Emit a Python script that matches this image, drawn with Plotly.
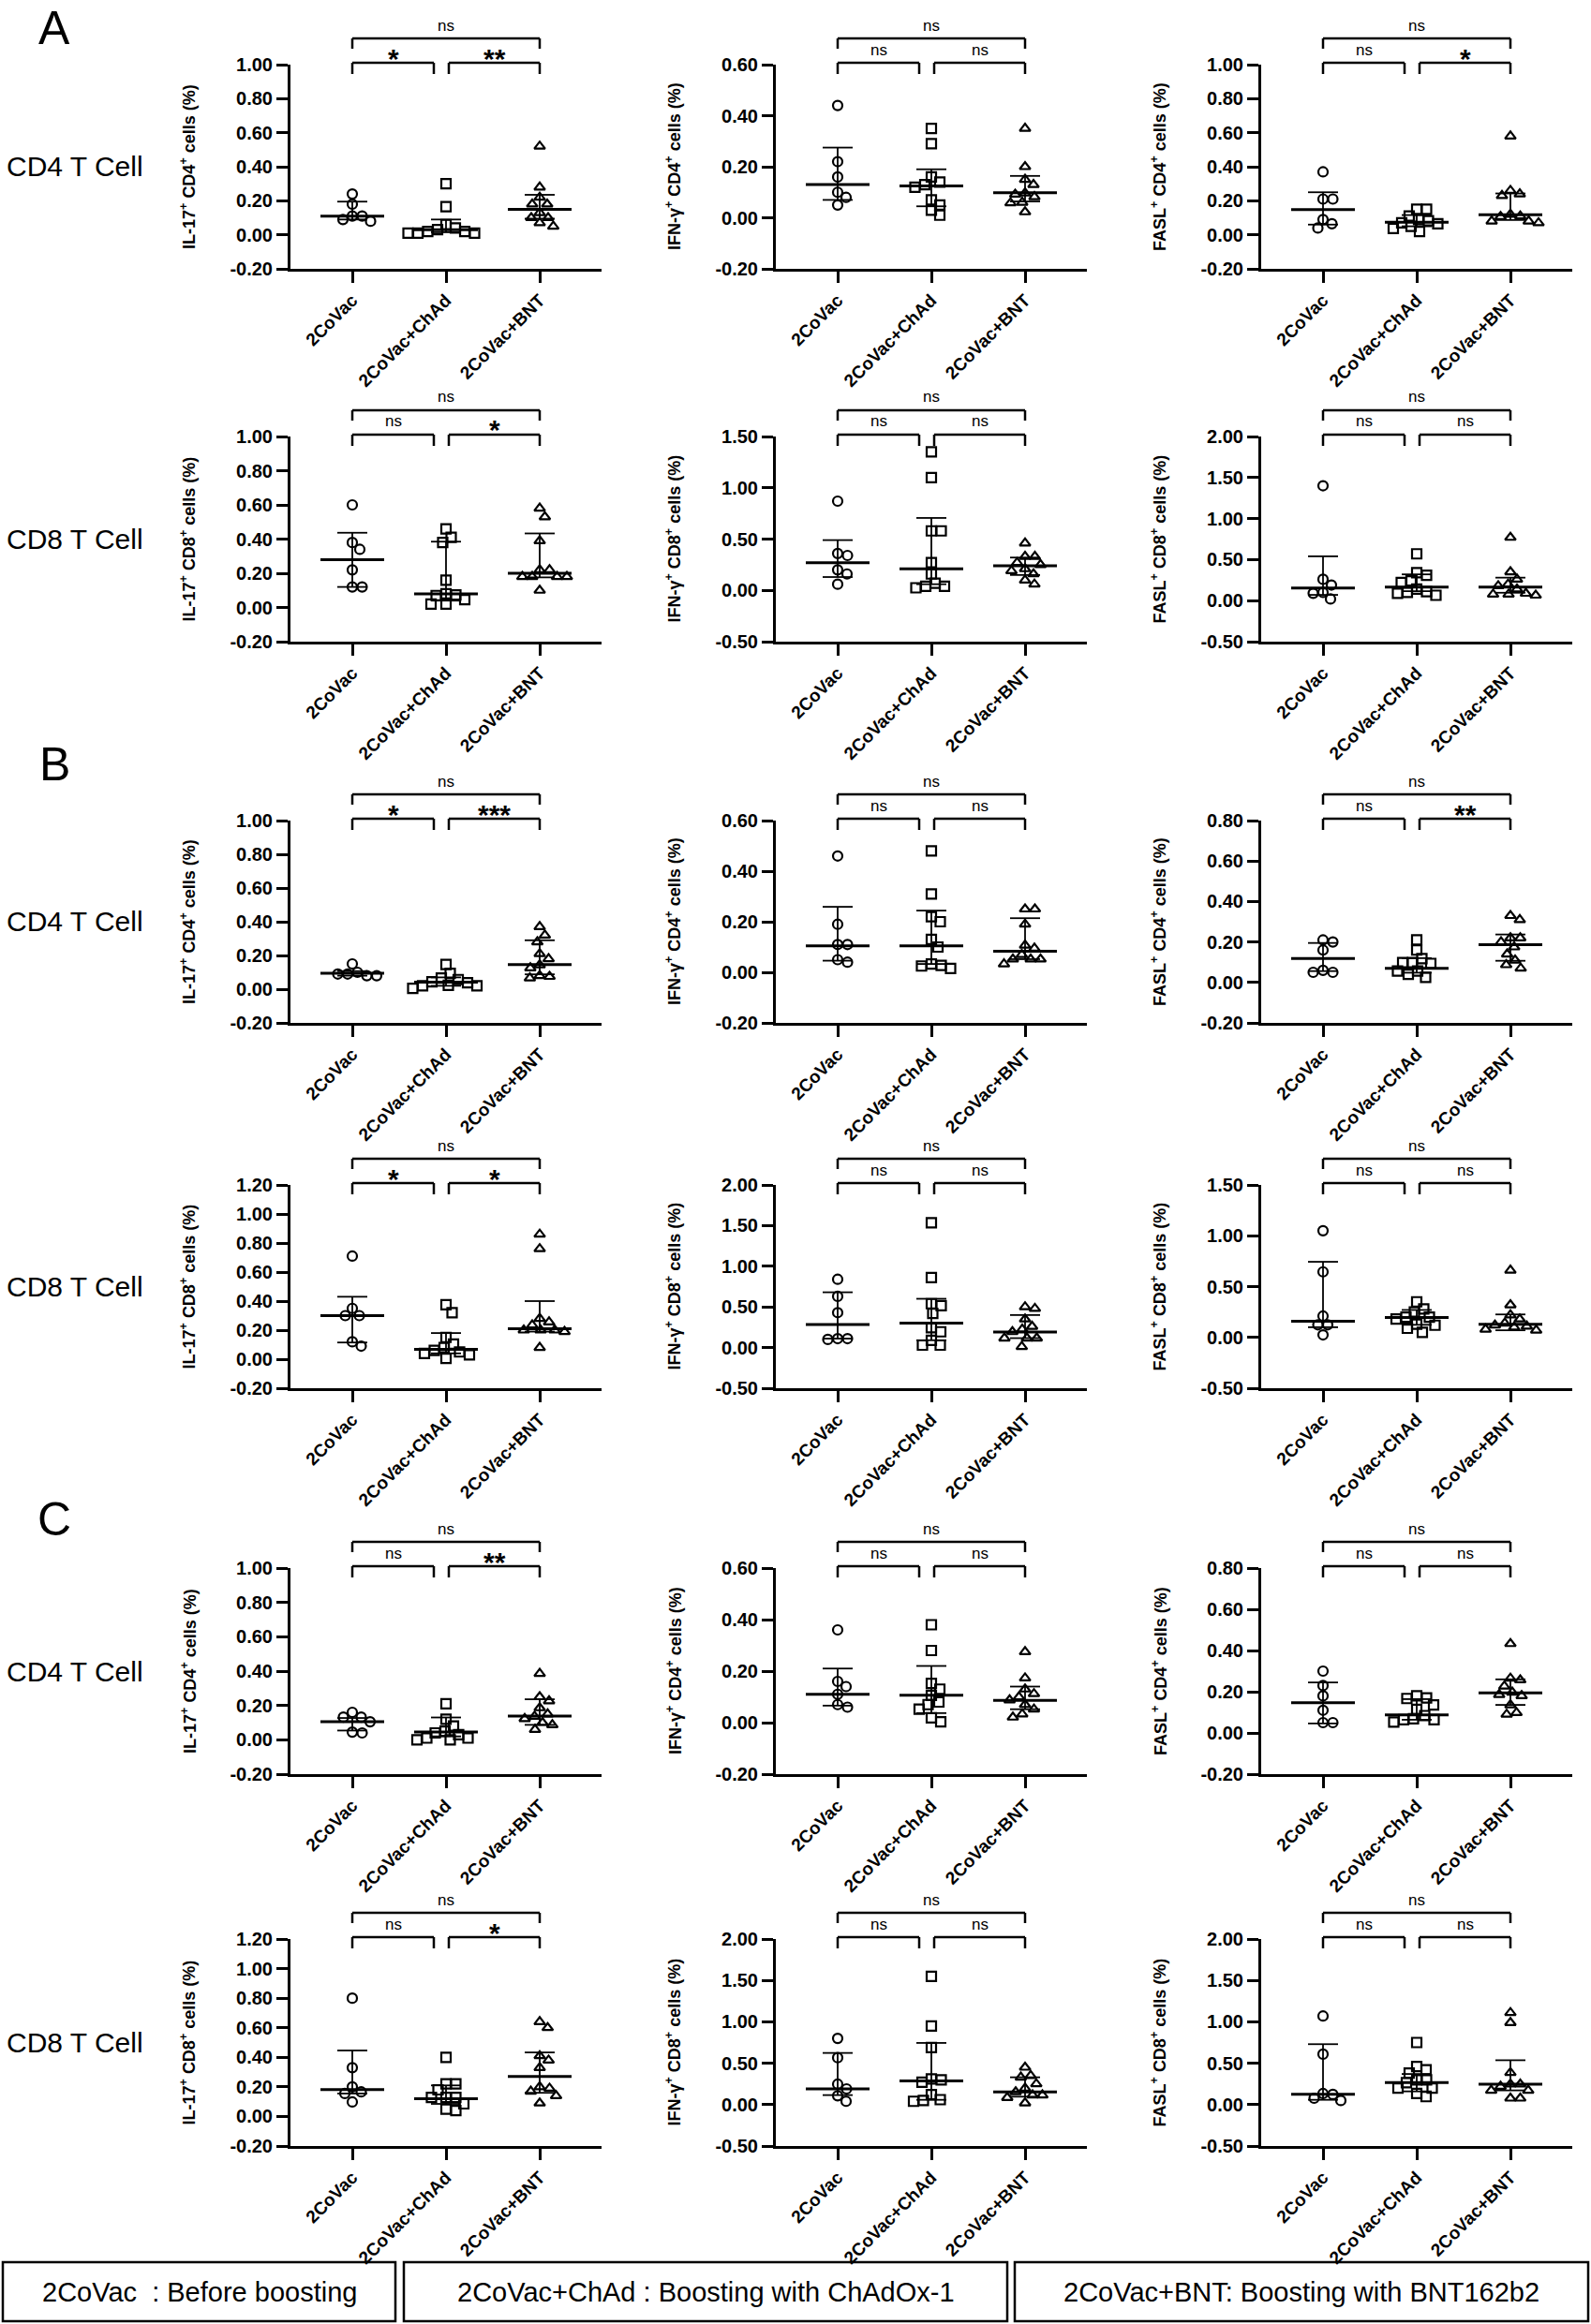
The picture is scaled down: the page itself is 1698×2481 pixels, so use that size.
import numpy as np
import plotly.graph_objects as go

W, H = 1698, 2481
GROUPS = ["2CoVac", "2CoVac+ChAd", "2CoVac+BNT"]
SYMBOLS = ["circle-open", "square-open", "triangle-up-open"]
ROW_LABELS = ["CD4 T Cell", "CD8 T Cell", "CD4 T Cell", "CD8 T Cell", "CD4 T Cell", "CD8 T Cell"]
PANEL_LETTERS = ["A", "B", "C"]
LEGEND_TEXT = ["2CoVac\u00a0 : Before boosting",
               "2CoVac+ChAd : Boosting with ChAdOx-1",
               "2CoVac+BNT: Boosting with BNT162b2"]

# ---------------- data: values per group, and [median, q1, q3] per group ----------------
A_IL17_CD4 = [[0.24, 0.18, 0.11, 0.11, 0.09, 0.08],
              [0.30, 0.165, 0.06, 0.04, 0.03, 0.02, 0.02, 0.01, 0.01, 0.01],
              [0.52, 0.28, 0.22, 0.18, 0.18, 0.13, 0.10, 0.10, 0.07, 0.05]]
A_IL17_CD4_STATS = [[0.11, 0.09, 0.195], [0.03, 0.015, 0.09], [0.15, 0.095, 0.235]]
A_IFNG_CD4 = [[0.44, 0.22, 0.16, 0.10, 0.08, 0.05],
              [0.35, 0.29, 0.16, 0.14, 0.13, 0.12, 0.07, 0.05, 0.03, 0.01],
              [0.35, 0.20, 0.15, 0.13, 0.097, 0.092, 0.082, 0.06, 0.058, 0.023]]
A_IFNG_CD4_STATS = [[0.13, 0.07, 0.275], [0.125, 0.045, 0.19], [0.098, 0.064, 0.164]]
A_FASL_CD4 = [[0.37, 0.21, 0.21, 0.09, 0.065, 0.04],
              [0.15, 0.15, 0.11, 0.09, 0.083, 0.07, 0.065, 0.05, 0.037, 0.02],
              [0.58, 0.26, 0.24, 0.23, 0.12, 0.11, 0.107, 0.08, 0.08, 0.07]]
A_FASL_CD4_STATS = [[0.148, 0.06, 0.25], [0.074, 0.05, 0.116], [0.118, 0.087, 0.243]]
A_IL17_CD8 = [[0.60, 0.38, 0.34, 0.22, 0.12, 0.12],
              [0.46, 0.41, 0.38, 0.16, 0.08, 0.07, 0.073, 0.046, 0.02, 0.02],
              [0.58, 0.53, 0.39, 0.22, 0.22, 0.18, 0.18, 0.18, 0.18, 0.10]]
A_IL17_CD8_STATS = [[0.28, 0.12, 0.437], [0.08, 0.04, 0.385], [0.20, 0.176, 0.433]]
A_IFNG_CD8 = [[0.87, 0.36, 0.34, 0.20, 0.16, 0.06],
              [1.35, 1.10, 0.58, 0.58, 0.27, 0.16, 0.07, 0.04, 0.04, 0.025],
              [0.46, 0.33, 0.33, 0.27, 0.25, 0.21, 0.19, 0.16, 0.10, 0.06]]
A_IFNG_CD8_STATS = [[0.27, 0.13, 0.49], [0.21, 0.06, 0.706], [0.24, 0.15, 0.32]]
A_FASL_CD8 = [[1.40, 0.26, 0.19, 0.10, 0.09, 0.02],
              [0.57, 0.34, 0.31, 0.24, 0.22, 0.14, 0.11, 0.10, 0.09, 0.065],
              [0.77, 0.35, 0.26, 0.20, 0.18, 0.14, 0.088, 0.077, 0.077, 0.065]]
A_FASL_CD8_STATS = [[0.153, 0.07, 0.54], [0.165, 0.115, 0.32], [0.165, 0.096, 0.28]]

B_IL17_CD4 = [[0.15, 0.10, 0.09, 0.09, 0.08, 0.08],
              [0.147, 0.094, 0.066, 0.057, 0.044, 0.038, 0.023, 0.02, 0.02, 0.005],
              [0.37, 0.32, 0.28, 0.21, 0.18, 0.144, 0.126, 0.08, 0.075, 0.066]]
B_IL17_CD4_STATS = [[0.094, 0.08, 0.107], [0.042, 0.02, 0.07], [0.146, 0.088, 0.29]]
B_IFNG_CD4 = [[0.46, 0.19, 0.11, 0.11, 0.05, 0.04],
              [0.48, 0.31, 0.22, 0.20, 0.13, 0.10, 0.033, 0.027, 0.025, 0.015],
              [0.25, 0.25, 0.19, 0.107, 0.095, 0.07, 0.052, 0.052, 0.052, 0.033]]
B_IFNG_CD4_STATS = [[0.105, 0.046, 0.259], [0.105, 0.033, 0.244], [0.083, 0.052, 0.214]]
B_FASL_CD4 = [[0.21, 0.20, 0.16, 0.06, 0.05, 0.05],
              [0.21, 0.16, 0.118, 0.098, 0.098, 0.094, 0.056, 0.056, 0.04, 0.025],
              [0.33, 0.31, 0.22, 0.22, 0.20, 0.175, 0.14, 0.11, 0.087, 0.07]]
B_FASL_CD4_STATS = [[0.118, 0.056, 0.195], [0.07, 0.048, 0.12], [0.187, 0.107, 0.237]]
B_IL17_CD8 = [[0.71, 0.35, 0.30, 0.30, 0.12, 0.09],
              [0.375, 0.32, 0.15, 0.104, 0.08, 0.06, 0.05, 0.04, 0.03, 0.006],
              [0.86, 0.76, 0.28, 0.256, 0.235, 0.20, 0.20, 0.20, 0.19, 0.08]]
B_IL17_CD8_STATS = [[0.30, 0.115, 0.43], [0.067, 0.04, 0.18], [0.21, 0.19, 0.40]]
B_IFNG_CD8 = [[0.84, 0.63, 0.43, 0.11, 0.11, 0.10],
              [1.535, 0.86, 0.54, 0.515, 0.42, 0.244, 0.194, 0.09, 0.03, 0.03],
              [0.50, 0.48, 0.35, 0.26, 0.225, 0.194, 0.116, 0.116, 0.116, 0.012]]
B_IFNG_CD8_STATS = [[0.283, 0.11, 0.68], [0.30, 0.09, 0.60], [0.19, 0.116, 0.40]]
B_FASL_CD8 = [[1.05, 0.645, 0.21, 0.124, 0.124, 0.025],
              [0.35, 0.28, 0.25, 0.20, 0.20, 0.18, 0.13, 0.12, 0.09, 0.05],
              [0.66, 0.32, 0.22, 0.18, 0.14, 0.12, 0.11, 0.10, 0.08, 0.07]]
B_FASL_CD8_STATS = [[0.158, 0.10, 0.744], [0.195, 0.124, 0.27], [0.13, 0.07, 0.226]]

C_IL17_CD4 = [[0.16, 0.132, 0.132, 0.105, 0.045, 0.04],
              [0.21, 0.12, 0.08, 0.05, 0.04, 0.03, 0.01, 0.01, 0.00, 0.00],
              [0.386, 0.25, 0.226, 0.186, 0.15, 0.136, 0.123, 0.10, 0.087, 0.06]]
C_IL17_CD4_STATS = [[0.105, 0.054, 0.127], [0.045, 0.02, 0.13], [0.138, 0.087, 0.236]]
C_IFNG_CD4 = [[0.36, 0.16, 0.14, 0.11, 0.07, 0.06],
              [0.38, 0.28, 0.152, 0.13, 0.106, 0.08, 0.07, 0.052, 0.019, 0.003],
              [0.275, 0.173, 0.13, 0.112, 0.10, 0.088, 0.07, 0.052, 0.033, 0.021]]
C_IFNG_CD4_STATS = [[0.11, 0.066, 0.21], [0.106, 0.037, 0.22], [0.086, 0.052, 0.14]]
C_FASL_CD4 = [[0.30, 0.23, 0.18, 0.11, 0.05, 0.05],
              [0.18, 0.17, 0.167, 0.136, 0.114, 0.084, 0.069, 0.064, 0.064, 0.053],
              [0.433, 0.265, 0.257, 0.227, 0.197, 0.186, 0.18, 0.136, 0.098, 0.09]]
C_FASL_CD4_STATS = [[0.147, 0.046, 0.245], [0.087, 0.064, 0.164], [0.194, 0.136, 0.26]]
C_IL17_CD8 = [[0.80, 0.33, 0.20, 0.166, 0.155, 0.098],
              [0.40, 0.22, 0.22, 0.18, 0.128, 0.128, 0.128, 0.085, 0.05, 0.04],
              [0.64, 0.60, 0.41, 0.38, 0.33, 0.20, 0.19, 0.17, 0.14, 0.09]]
C_IL17_CD8_STATS = [[0.182, 0.155, 0.446], [0.12, 0.085, 0.21], [0.27, 0.16, 0.433]]
C_IFNG_CD8 = [[0.80, 0.567, 0.247, 0.19, 0.107, 0.04],
              [1.55, 0.95, 0.69, 0.31, 0.30, 0.27, 0.12, 0.06, 0.05, 0.04],
              [0.45, 0.35, 0.33, 0.25, 0.198, 0.153, 0.115, 0.115, 0.085, 0.02]]
C_IFNG_CD8_STATS = [[0.19, 0.115, 0.624], [0.285, 0.058, 0.745], [0.153, 0.096, 0.33]]
C_FASL_CD8 = [[1.07, 0.61, 0.134, 0.123, 0.077, 0.05],
              [0.75, 0.46, 0.42, 0.38, 0.30, 0.30, 0.266, 0.20, 0.20, 0.135, 0.097],
              [1.11, 0.99, 0.386, 0.247, 0.247, 0.22, 0.172, 0.172, 0.077, 0.077]]
C_FASL_CD8_STATS = [[0.126, 0.058, 0.73], [0.265, 0.16, 0.37], [0.247, 0.172, 0.536]]

# significance labels: [left pair, right pair, outer pair]
SIG = [["*", "**", "ns"], ["ns", "ns", "ns"], ["ns", "*", "ns"],
       ["ns", "*", "ns"], ["ns", "ns", "ns"], ["ns", "ns", "ns"],
       ["*", "***", "ns"], ["ns", "ns", "ns"], ["ns", "**", "ns"],
       ["*", "*", "ns"], ["ns", "ns", "ns"], ["ns", "ns", "ns"],
       ["ns", "**", "ns"], ["ns", "ns", "ns"], ["ns", "ns", "ns"],
       ["ns", "*", "ns"], ["ns", "ns", "ns"], ["ns", "ns", "ns"]]

Y_RANGES = [(-0.2, 1.0, 0.2), (-0.2, 0.6, 0.2), (-0.2, 1.0, 0.2),
            (-0.2, 1.0, 0.2), (-0.5, 1.5, 0.5), (-0.5, 2.0, 0.5),
            (-0.2, 1.0, 0.2), (-0.2, 0.6, 0.2), (-0.2, 0.8, 0.2),
            (-0.2, 1.2, 0.2), (-0.5, 2.0, 0.5), (-0.5, 1.5, 0.5),
            (-0.2, 1.0, 0.2), (-0.2, 0.6, 0.2), (-0.2, 0.8, 0.2),
            (-0.2, 1.2, 0.2), (-0.5, 2.0, 0.5), (-0.5, 2.0, 0.5)]

Y_TITLES = ["IL-17<sup>+</sup> CD4<sup>+</sup> cells (%)", "IFN-\u03b3<sup>+</sup> CD4<sup>+</sup> cells (%)",
            "FASL<sup>+</sup> CD4<sup>+</sup> cells (%)",
            "IL-17<sup>+</sup> CD8<sup>+</sup> cells (%)", "IFN-\u03b3<sup>+</sup> CD8<sup>+</sup> cells (%)",
            "FASL<sup>+</sup> CD8<sup>+</sup> cells (%)"] * 3

PANELS = [(A_IL17_CD4, A_IL17_CD4_STATS), (A_IFNG_CD4, A_IFNG_CD4_STATS), (A_FASL_CD4, A_FASL_CD4_STATS),
          (A_IL17_CD8, A_IL17_CD8_STATS), (A_IFNG_CD8, A_IFNG_CD8_STATS), (A_FASL_CD8, A_FASL_CD8_STATS),
          (B_IL17_CD4, B_IL17_CD4_STATS), (B_IFNG_CD4, B_IFNG_CD4_STATS), (B_FASL_CD4, B_FASL_CD4_STATS),
          (B_IL17_CD8, B_IL17_CD8_STATS), (B_IFNG_CD8, B_IFNG_CD8_STATS), (B_FASL_CD8, B_FASL_CD8_STATS),
          (C_IL17_CD4, C_IL17_CD4_STATS), (C_IFNG_CD4, C_IFNG_CD4_STATS), (C_FASL_CD4, C_FASL_CD4_STATS),
          (C_IL17_CD8, C_IL17_CD8_STATS), (C_IFNG_CD8, C_IFNG_CD8_STATS), (C_FASL_CD8, C_FASL_CD8_STATS)]

# ---------------- layout geometry (pixels) ----------------
COL_PX = [(310, 642), (828, 1160), (1346, 1678)]
ROW_PX = [(69, 287), (466, 685), (876, 1092), (1265, 1482), (1674, 1894), (2070, 2291)]
XR = (-0.66, 2.66)
FONT = "Liberation Sans, Arial, sans-serif"


def swarm(vals, pxu, pxc, d=10.5):
    """Compact beeswarm: each point takes the nearest free x slot (pixel-based)."""
    order = np.argsort(-vals, kind="stable")
    placed = []
    offs = np.zeros(len(vals))
    for i in order:
        y = vals[i] * pxu
        chosen = 0.0
        for k in range(0, 400):
            cands = [0.0] if k == 0 else [k * 0.5, -k * 0.5]
            hit = None
            for x in cands:
                if all((x - px) ** 2 + (y - py) ** 2 >= d * d for px, py in placed):
                    hit = x
                    break
            if hit is not None:
                chosen = hit
                break
        placed.append((chosen, y))
        offs[i] = chosen / pxc
    return offs


fig = go.Figure()
layout = dict(width=W, height=H, margin=dict(l=0, r=0, t=0, b=0, autoexpand=False),
              paper_bgcolor="white", plot_bgcolor="white", showlegend=False,
              font=dict(family=FONT, color="black"))
shapes, annos = [], []


def domx(c):
    return (c - XR[0]) / (XR[1] - XR[0])


for idx, (groups, stats) in enumerate(PANELS):
    r, c = divmod(idx, 3)
    n = idx + 1
    xa = "x" if n == 1 else f"x{n}"
    ya = "y" if n == 1 else f"y{n}"
    x0p, x1p = COL_PX[c]
    t, b = ROW_PX[r]
    ph = b - t
    ymin, ymax, dt = Y_RANGES[idx]
    pxu = ph / (ymax - ymin)
    pxc = (x1p - x0p) / (XR[1] - XR[0])
    tv = np.round(np.arange(ymin, ymax + dt / 2, dt), 2)
    layout["xaxis" + ("" if n == 1 else str(n))] = dict(
        domain=[x0p / W, x1p / W], anchor=ya, range=list(XR), tickvals=[0, 1, 2], ticktext=GROUPS,
        tickangle=-45, showline=True, linewidth=3, linecolor="black", ticks="outside",
        ticklen=12, tickwidth=2.5, tickcolor="black", showgrid=False, zeroline=False, automargin=False,
        tickfont=dict(family=FONT, size=19, color="black", weight="bold"), fixedrange=True)
    layout["yaxis" + ("" if n == 1 else str(n))] = dict(
        domain=[1 - b / H, 1 - t / H], anchor=xa, range=[ymin, ymax], tickvals=list(tv),
        ticktext=[f"{v:.2f}" for v in tv], showline=True, linewidth=3, linecolor="black",
        ticks="outside", ticklen=12, tickwidth=2.5, tickcolor="black", showgrid=False,
        zeroline=False, automargin=False,
        tickfont=dict(family=FONT, size=20, color="black", weight="bold"), fixedrange=True)
    for g, vals in enumerate(groups):
        vals = np.array(vals, dtype=float)
        offs = swarm(vals, pxu, pxc)
        fig.add_trace(go.Scatter(x=g + offs, y=vals, mode="markers", xaxis=xa, yaxis=ya,
                                 marker=dict(symbol=SYMBOLS[g], size=10, color="black",
                                             line=dict(width=2.2, color="black")),
                                 cliponaxis=False, hoverinfo="skip"))
        med, lo, hi = stats[g]
        fig.add_trace(go.Scatter(x=[g - 0.34, g + 0.34], y=[med, med], mode="lines", xaxis=xa, yaxis=ya,
                                 line=dict(color="black", width=3), hoverinfo="skip"))
        fig.add_trace(go.Scatter(x=[g, g, None, g - 0.16, g + 0.16, None, g - 0.16, g + 0.16],
                                 y=[lo, hi, None, hi, hi, None, lo, lo], mode="lines",
                                 xaxis=xa, yaxis=ya, line=dict(color="black", width=1.8),
                                 hoverinfo="skip"))

    def fy(px_above):
        return 1 + px_above / ph
    # (x0, x1, line height above plot top, leg length)
    brackets = [(0.0, 0.87, 2, 12), (1.03, 2.0, 2, 12), (0.0, 2.0, 28, 11)]
    lab_pos = [(0.435, 16), (1.515, 16), (1.0, 42)]
    for (bx0, bx1, ytop, ydn), (lx, ly), lab in zip(brackets, lab_pos, SIG[idx]):
        yl = fy(ytop)
        yb = fy(ytop - ydn)
        for seg in [(bx0, yb, bx0, yl), (bx0, yl, bx1, yl), (bx1, yl, bx1, yb)]:
            shapes.append(dict(type="line", xref=f"{xa} domain", yref=f"{ya} domain",
                               x0=domx(seg[0]), y0=seg[1], x1=domx(seg[2]), y1=seg[3],
                               line=dict(color="black", width=2.5)))
        star = lab != "ns"
        annos.append(dict(xref=f"{xa} domain", yref=f"{ya} domain", x=domx(lx),
                          y=fy(ly - (9 if star else 0)), text=lab, showarrow=False,
                          xanchor="center", yanchor="middle",
                          font=dict(family=FONT, size=30 if star else 17, color="black",
                                    weight="bold" if star else "normal")))
    # y-axis title
    annos.append(dict(xref="paper", yref="paper", x=(x0p - 109) / W, y=1 - (t + b) / 2 / H,
                      text=Y_TITLES[idx], textangle=-90, showarrow=False, xanchor="center",
                      yanchor="middle", font=dict(family=FONT, size=18, color="black", weight="bold")))

# row labels
for r, lab in enumerate(ROW_LABELS):
    t, b = ROW_PX[r]
    annos.append(dict(xref="paper", yref="paper", x=80 / W, y=1 - (t + b) / 2 / H, text=lab,
                      showarrow=False, xanchor="center", yanchor="middle",
                      font=dict(family=FONT, size=30, color="black")))
# panel letters (anchored by their top edge)
LETTER_TOP = [0, 786, 1592]
for L, yy in zip(PANEL_LETTERS, LETTER_TOP):
    annos.append(dict(xref="paper", yref="paper", x=58 / W, y=1 - yy / H, text=L, showarrow=False,
                      xanchor="center", yanchor="top", font=dict(family=FONT, size=50, color="black")))
# legend boxes
BOX_PX = [(3, 422), (431, 1075), (1083, 1695)]
for (bx0, bx1), txt in zip(BOX_PX, LEGEND_TEXT):
    shapes.append(dict(type="rect", xref="paper", yref="paper", x0=bx0 / W, x1=bx1 / W,
                       y0=1 - 2478 / H, y1=1 - 2415 / H, line=dict(color="black", width=2.5)))
    annos.append(dict(xref="paper", yref="paper", x=(bx0 + bx1) / 2 / W, y=1 - 2447 / H, text=txt,
                      showarrow=False, xanchor="center", yanchor="middle",
                      font=dict(family=FONT, size=29, color="black")))

layout["shapes"] = shapes
layout["annotations"] = annos
fig.update_layout(**layout)
fig.write_html("out.html", config={"displayModeBar": False},
               post_script="document.body.style.margin='0';document.body.style.overflow='hidden';")
